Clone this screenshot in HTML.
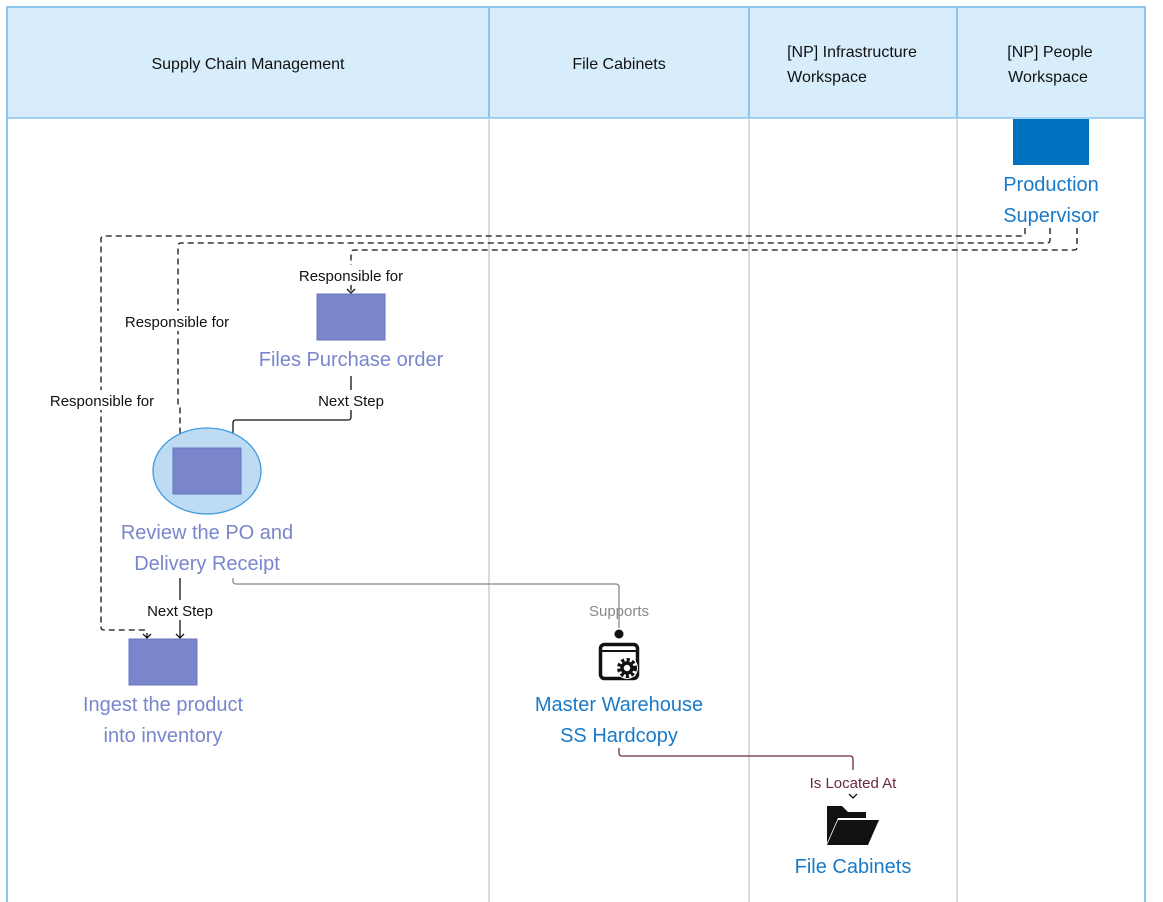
<!DOCTYPE html>
<html><head><style>
html,body{margin:0;padding:0;background:#fff}
svg{display:block;font-family:"Liberation Sans",sans-serif}
</style></head><body>
<svg width="1163" height="902" viewBox="0 0 1163 902">
<rect x="7" y="7" width="1138" height="111" fill="#d7edfb"/>
<rect x="7" y="7" width="1138" height="900" fill="none" stroke="#8cc6ee" stroke-width="2"/>
<line x1="7" y1="118" x2="1145" y2="118" stroke="#8cc6ee" stroke-width="1.5"/>
<g stroke="#8cc6ee" stroke-width="2"><line x1="489" y1="7" x2="489" y2="118"/><line x1="749" y1="7" x2="749" y2="118"/><line x1="957" y1="7" x2="957" y2="118"/></g>
<g stroke="#cfcfcf" stroke-width="1.5"><line x1="489" y1="118" x2="489" y2="902"/><line x1="749" y1="118" x2="749" y2="902"/><line x1="957" y1="118" x2="957" y2="902"/></g>
<g font-size="16" fill="#111" text-anchor="middle">
<text x="248" y="69">Supply Chain Management</text>
<text x="619" y="69">File Cabinets</text>
<text x="852" y="57">[NP] Infrastructure</text><text x="827" y="82">Workspace</text>
<text x="1050" y="57">[NP] People</text><text x="1048" y="82">Workspace</text>
</g>
<rect x="1013" y="119" width="76" height="46" fill="#0070c0"/>
<g font-size="20" fill="#1a7ac8" text-anchor="middle">
<text x="1051" y="191">Production</text><text x="1051" y="222">Supervisor</text>
<text x="619" y="711">Master Warehouse</text><text x="619" y="742">SS Hardcopy</text>
<text x="853" y="873">File Cabinets</text>
</g>
<g fill="none" stroke="#111" stroke-width="1.3" stroke-dasharray="6,4">
<path d="M1025 228 V233 Q1025 236 1022 236 H104 Q101 236 101 239 V627 Q101 630 104 630 H144 Q147 630 147 633 V638"/>
<path d="M1050 228 V240 Q1050 243 1047 243 H181 Q178 243 178 246 V405 Q180 405 180 408 V449"/>
<path d="M1077 228 V247 Q1077 250 1074 250 H354 Q351 250 351 253 V293"/>
</g>
<g fill="none" stroke="#111" stroke-width="1.3">
<path d="M143 634 L147 638 L151 634"/><path d="M176 445 L180 449 L184 445"/><path d="M347 289 L351 293 L355 289"/>
<path d="M351 376 V417 Q351 420 348 420 H236 Q233 420 233 423 V449"/><path d="M229 445 L233 449 L237 445"/>
<path d="M180 578 V638"/><path d="M176 634 L180 638 L184 634"/>
</g>
<path d="M233 578 V581 Q233 584 236 584 H616 Q619 584 619 587 V628" fill="none" stroke="#888" stroke-width="1.3"/>
<path d="M619 748 V753 Q619 756 622 756 H850 Q853 756 853 759 V770" fill="none" stroke="#6d2a3e" stroke-width="1.3"/>
<path d="M849 794 L853 798 L857 794" fill="none" stroke="#111" stroke-width="1.3"/>
<g font-size="15" text-anchor="middle">
<rect x="42" y="390" width="120" height="20" fill="#fff"/><text x="102" y="406" fill="#111">Responsible for</text>
<rect x="117" y="311" width="120" height="20" fill="#fff"/><text x="177" y="327" fill="#111">Responsible for</text>
<rect x="291" y="265" width="120" height="20" fill="#fff"/><text x="351" y="281" fill="#111">Responsible for</text>
<rect x="312" y="390" width="78" height="20" fill="#fff"/><text x="351" y="406" fill="#111">Next Step</text>
<rect x="141" y="600" width="78" height="20" fill="#fff"/><text x="180" y="616" fill="#111">Next Step</text>
<text x="619" y="616" fill="#888">Supports</text>
<text x="853" y="788" fill="#6d2a3e">Is Located At</text>
</g>
<rect x="317" y="294" width="68" height="46" fill="#7986cb" stroke="#6875bf"/>
<ellipse cx="207" cy="471" rx="54" ry="43" fill="#bddcf4" stroke="#3f9ce0" stroke-width="1.3"/>
<rect x="173" y="448" width="68" height="46" fill="#7986cb" stroke="#6875bf"/>
<rect x="129" y="639" width="68" height="46" fill="#7986cb" stroke="#6875bf"/>
<g font-size="20" fill="#7986cb" text-anchor="middle">
<text x="351" y="366">Files Purchase order</text>
<text x="207" y="539">Review the PO and</text><text x="207" y="570">Delivery Receipt</text>
<text x="163" y="711">Ingest the product</text><text x="163" y="742">into inventory</text>
</g>
<circle cx="619" cy="634" r="4.5" fill="#111"/>
<rect x="600.5" y="644.5" width="37" height="34" rx="4" fill="none" stroke="#111" stroke-width="3.5"/>
<line x1="600" y1="651" x2="638" y2="651" stroke="#111" stroke-width="2"/>
<circle cx="627" cy="668" r="11" fill="#fff"/>
<circle cx="627" cy="668" r="8" fill="none" stroke="#111" stroke-width="4" stroke-dasharray="3,2.3"/>
<circle cx="627" cy="668" r="5" fill="none" stroke="#111" stroke-width="3.5"/>
<path d="M827 806 H842 L848 812 H866 V818 H838 L827 843 Z" fill="#111"/>
<path d="M838 820 H879 L868 845 H827 Z" fill="#111"/>
</svg>
</body></html>
